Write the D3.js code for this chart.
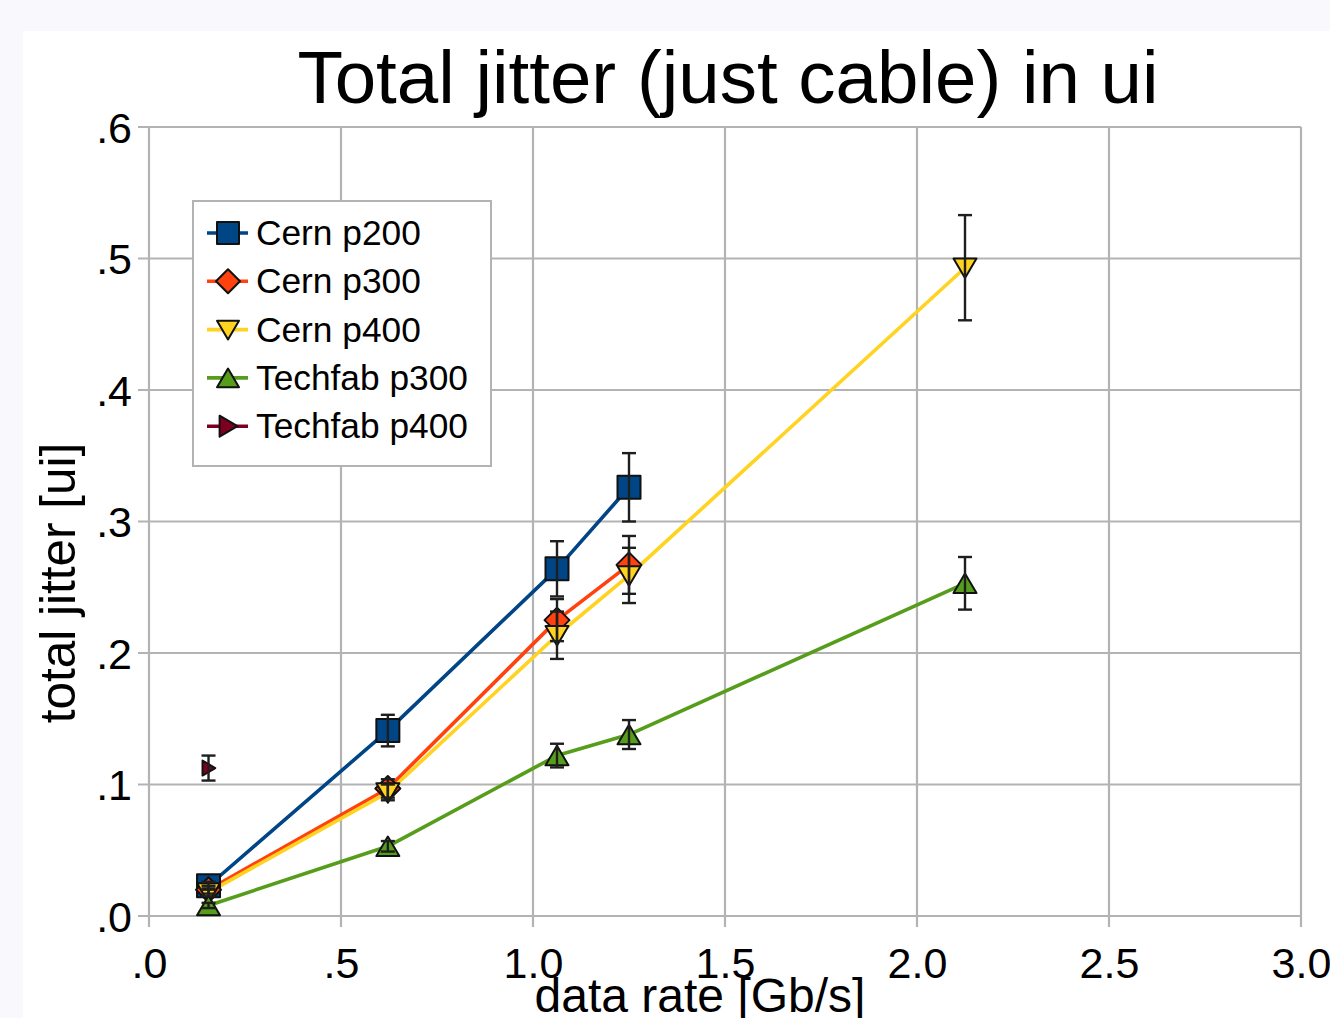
<!DOCTYPE html>
<html>
<head>
<meta charset="utf-8">
<script src="https://cdn.jsdelivr.net/npm/d3@7"></script>
<style>
  html, body { margin: 0; padding: 0; background: #f8f8fd; }
  svg { display: block; }
  text { font-family: "Liberation Sans", Arial, sans-serif; fill: #000; }
</style>
</head>
<body>
<svg id="chart" width="1330" height="1018"></svg>
<script>
// ---- data ----
const chartTitle = "Total jitter (just cable) in ui";
const xAxisTitle = "data rate [Gb/s]";
const yAxisTitle = "total jitter [ui]";
const dataRates = [0.155, 0.622, 1.0625, 1.25, 2.125];
const seriesNames = ["Cern p200", "Cern p300", "Cern p400", "Techfab p300", "Techfab p400"];
const seriesColors = ["#004586", "#ff420e", "#ffd320", "#579d1c", "#7e0021"];
const seriesSymbols = ["square", "diamond", "triangleDown", "triangleUp", "triangleRight"];
const cernP200 = [0.023, 0.141, 0.264, 0.326, null];
const cernP300 = [0.020, 0.097, 0.225, 0.267, null];
const cernP400 = [0.018, 0.094, 0.2135, 0.259, 0.493];
const techfabP300 = [0.008, 0.053, 0.122, 0.138, 0.253];
const techfabP400 = [0.1125, null, null, null, null];
const cernP200Err = [0.003, 0.012, 0.021, 0.026, null];
const cernP300Err = [0.003, 0.007, 0.016, 0.022, null];
const cernP400Err = [0.003, 0.006, 0.018, 0.021, 0.040];
const techfabP300Err = [0.002, 0.004, 0.009, 0.011, 0.020];
const techfabP400Err = [0.0095, null, null, null, null];
const xTickValues = [0, 0.5, 1.0, 1.5, 2.0, 2.5, 3.0];
const xTickLabels = [".0", ".5", "1.0", "1.5", "2.0", "2.5", "3.0"];
const yTickValues = [0, 0.1, 0.2, 0.3, 0.4, 0.5, 0.6];
const yTickLabels = [".0", ".1", ".2", ".3", ".4", ".5", ".6"];

const seriesValues = [cernP200, cernP300, cernP400, techfabP300, techfabP400];
const seriesErrors = [cernP200Err, cernP300Err, cernP400Err, techfabP300Err, techfabP400Err];

// ---- layout ----
const svg = d3.select("#chart");
const gridColor = "#b3b3b3";
svg.append("rect").attr("x", 23).attr("y", 31).attr("width", 1330 - 23).attr("height", 1018 - 31).attr("fill", "#ffffff");

const x = d3.scaleLinear().domain([0, 3]).range([149, 1301]);
const y = d3.scaleLinear().domain([0, 0.6]).range([916, 127]);

// gridlines
const grid = svg.append("g");
grid.selectAll("line.v").data(xTickValues).join("line")
  .attr("x1", d => x(d)).attr("x2", d => x(d))
  .attr("y1", y(0.6)).attr("y2", y(0) + 11)
  .attr("stroke", gridColor).attr("stroke-width", 2.2);
grid.selectAll("line.h").data(yTickValues).join("line")
  .attr("y1", d => y(d)).attr("y2", d => y(d))
  .attr("x1", x(0) - 11).attr("x2", x(3))
  .attr("stroke", gridColor).attr("stroke-width", 2.2);

// axes (labels only, gridlines drawn above)
const xAxis = d3.axisBottom(x).tickValues(xTickValues)
  .tickFormat((d, i) => xTickLabels[i]).tickSize(0).tickPadding(0);
const gx = svg.append("g").attr("transform", `translate(0,${y(0)})`).call(xAxis);
gx.select(".domain").remove();
gx.selectAll("text").attr("font-size", 43).attr("font-family", "Liberation Sans, Arial, sans-serif")
  .attr("fill", "#000").attr("dy", null).attr("y", 62);

const yAxis = d3.axisLeft(y).tickValues(yTickValues)
  .tickFormat((d, i) => yTickLabels[i]).tickSize(0).tickPadding(17);
const gy = svg.append("g").attr("transform", `translate(${x(0)},0)`).call(yAxis);
gy.select(".domain").remove();
gy.selectAll("text").attr("font-size", 43).attr("font-family", "Liberation Sans, Arial, sans-serif")
  .attr("fill", "#000").attr("dy", "0.36em");

// titles
svg.append("text").attr("x", 728).attr("y", 103).attr("text-anchor", "middle")
  .attr("font-size", 74.5).text(chartTitle);
svg.append("text").attr("x", 700).attr("y", 1012).attr("text-anchor", "middle")
  .attr("font-size", 48).text(xAxisTitle);
svg.append("text").attr("transform", "translate(75,583) rotate(-90)").attr("text-anchor", "middle")
  .attr("font-size", 49.5).text(yAxisTitle);

// symbols
function symbolPath(kind, s) {
  const h = s / 2;
  switch (kind) {
    case "square": return `M${-h},${-h}H${h}V${h}H${-h}Z`;
    case "diamond": return `M0,${-h - 1}L${h + 1},0L0,${h + 1}L${-h - 1},0Z`;
    case "triangleDown": return `M${-h},${-h * 0.8}H${h}L0,${h * 0.9}Z`;
    case "triangleUp": return `M${-h},${h * 0.85}H${h}L0,${-h * 0.85}Z`;
    case "triangleRight": return `M${-h * 0.8},${-h}L${h * 0.9},0L${-h * 0.8},${h}Z`;
  }
}

const plot = svg.append("g");
const seriesData = seriesNames.map((name, i) => ({
  name, color: seriesColors[i], symbol: seriesSymbols[i],
  points: dataRates.map((r, j) => ({ x: r, y: seriesValues[i][j], e: seriesErrors[i][j] }))
    .filter(p => p.y !== null)
}));

const line = d3.line().x(d => x(d.x)).y(d => y(d.y));
// lines
seriesData.forEach(s => {
  if (s.points.length > 1) {
    plot.append("path").attr("d", line(s.points)).attr("fill", "none")
      .attr("stroke", s.color).attr("stroke-width", 3.6).attr("stroke-linejoin", "round");
  }
});
// markers
seriesData.forEach(s => {
  const sz = s.symbol === "triangleRight" ? 15 : 23;
  plot.append("g").selectAll("path").data(s.points).join("path")
    .attr("transform", d => `translate(${x(d.x)},${y(d.y)})`)
    .attr("d", symbolPath(s.symbol, sz))
    .attr("fill", s.color).attr("stroke", "#111").attr("stroke-width", 2)
    .attr("stroke-linejoin", "round");
});
// error bars
seriesData.forEach(s => {
  const g = plot.append("g").attr("stroke", "#1e1e1e").attr("stroke-width", 2.4);
  s.points.filter(p => p.e !== null).forEach(p => {
    const cx = x(p.x), y1 = y(p.y + p.e), y2 = y(p.y - p.e);
    g.append("line").attr("x1", cx).attr("x2", cx).attr("y1", y1).attr("y2", y2);
    g.append("line").attr("x1", cx - 7).attr("x2", cx + 7).attr("y1", y1).attr("y2", y1);
    g.append("line").attr("x1", cx - 7).attr("x2", cx + 7).attr("y1", y2).attr("y2", y2);
  });
});

// legend
const lg = svg.append("g");
lg.append("rect").attr("x", 193).attr("y", 201).attr("width", 298).attr("height", 265)
  .attr("fill", "#fff").attr("stroke", gridColor).attr("stroke-width", 2);
seriesData.forEach((s, i) => {
  const cy = 233 + i * 48.3;
  lg.append("line").attr("x1", 207).attr("x2", 248).attr("y1", cy).attr("y2", cy)
    .attr("stroke", s.color).attr("stroke-width", 3.6);
  lg.append("path").attr("transform", `translate(228,${cy})`)
    .attr("d", symbolPath(s.symbol, s.symbol === "triangleRight" ? 21 : 22))
    .attr("fill", s.color).attr("stroke", "#111").attr("stroke-width", 2).attr("stroke-linejoin", "round");
  lg.append("text").attr("x", 256).attr("y", cy + 12).attr("font-size", 35.3).text(s.name);
});
</script>
</body>
</html>
